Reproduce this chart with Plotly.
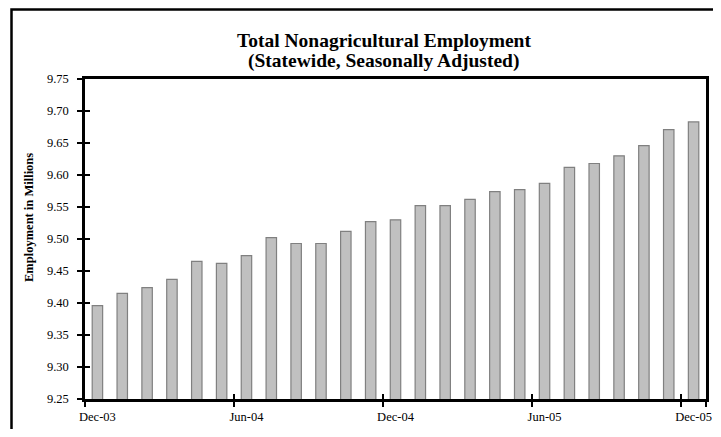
import plotly.graph_objects as go

months = ["Dec-03", "Jan-04", "Feb-04", "Mar-04", "Apr-04", "May-04", "Jun-04",
          "Jul-04", "Aug-04", "Sep-04", "Oct-04", "Nov-04", "Dec-04",
          "Jan-05", "Feb-05", "Mar-05", "Apr-05", "May-05", "Jun-05",
          "Jul-05", "Aug-05", "Sep-05", "Oct-05", "Nov-05", "Dec-05"]
employment = [9.396, 9.415, 9.424, 9.437, 9.465, 9.462, 9.474,
              9.502, 9.493, 9.493, 9.512, 9.527, 9.530,
              9.552, 9.552, 9.562, 9.574, 9.577, 9.587,
              9.612, 9.618, 9.630, 9.646, 9.671, 9.683]
x_tick_labels = ["Dec-03", "Jun-04", "Dec-04", "Jun-05", "Dec-05"]
y_ticks = [9.25, 9.30, 9.35, 9.40, 9.45, 9.50, 9.55, 9.60, 9.65, 9.70, 9.75]

title_line1 = "Total Nonagricultural Employment"
title_line2 = "(Statewide, Seasonally Adjusted)"
y_title = "Employment in Millions"

FONT = "Liberation Serif, Times New Roman, serif"

# page is 721x437; the html body keeps its default 8px margin
BODY = 8
W, H = 721 - 2 * BODY, 437 - 2 * BODY
ML, MR, MT, MB = 77, 7, 71, 30
pw, ph = W - ML - MR, H - MT - MB


def px(x):  # page pixel -> paper x
    return (x - BODY - ML) / pw


def py(y):  # page pixel -> paper y
    return (H - MB - (y - BODY)) / ph


fig = go.Figure()
fig.add_trace(go.Bar(
    x=months, y=employment, width=0.42,
    marker=dict(color="#C0C0C0", line=dict(color="#808080", width=1.2)),
    hoverinfo="x+y", showlegend=False,
))
# invisible helper trace for inner half of the crossing tick marks
fig.add_trace(go.Scatter(
    x=months, y=employment, xaxis="x2", yaxis="y2", mode="markers",
    marker=dict(opacity=0), hoverinfo="skip", showlegend=False,
))

common_x = dict(type="category", categoryorder="array", categoryarray=months,
                range=[-0.5, len(months) - 0.5], tickmode="array",
                tickvals=x_tick_labels, tickson="boundaries", tickangle=0,
                ticklen=5, tickwidth=1.5, tickcolor="black", showgrid=False,
                zeroline=False, fixedrange=True, automargin=False)
common_y = dict(range=[9.25, 9.75], tickmode="array", tickvals=y_ticks,
                ticklen=5, tickwidth=1.5, tickcolor="black", showgrid=False,
                zeroline=False, fixedrange=True, automargin=False)

fig.update_layout(
    width=W, height=H,
    margin=dict(l=ML, r=MR, t=MT, b=MB, pad=0, autoexpand=False),
    paper_bgcolor="white", plot_bgcolor="white",
    font=dict(family=FONT, color="black", size=12),
    xaxis=dict(**common_x, ticks="outside", showline=True, linecolor="black",
               linewidth=2.5, mirror=True,
               ticktext=x_tick_labels,
               tickfont=dict(family=FONT, size=12.5, color="black"),
               ticklabelstandoff=4),
    yaxis=dict(**common_y, ticks="outside", showline=True, linecolor="black",
               linewidth=2.5, mirror=True,
               tickformat=".2f",
               tickfont=dict(family=FONT, size=12.5, color="black"),
               ticklabelstandoff=6),
    xaxis2=dict(**common_x, ticks="inside", overlaying="x", anchor="y2",
                showline=False, showticklabels=False),
    yaxis2=dict(**common_y, ticks="inside", overlaying="y", anchor="x2",
                showline=False, showticklabels=False),
    annotations=[
        dict(text="<b>" + title_line1 + "</b>", xref="paper", yref="paper",
             x=px(383.5), y=py(40), xanchor="center", yanchor="middle",
             showarrow=False, font=dict(family=FONT, size=19.5, color="black")),
        dict(text="<b>" + title_line2 + "</b>", xref="paper", yref="paper",
             x=px(383.5), y=py(61), xanchor="center", yanchor="middle",
             showarrow=False, font=dict(family=FONT, size=19.5, color="black")),
        dict(text="<b>" + y_title + "</b>", xref="paper", yref="paper",
             x=px(29), y=py(218), textangle=-90, xanchor="center",
             yanchor="middle", showarrow=False,
             font=dict(family=FONT, size=12.5, color="black")),
    ],
    shapes=[
        dict(type="path", xref="paper", yref="paper",
             path=f"M {px(11.5)} {py(429)} L {px(11.5)} {py(9.5)} L {px(713)} {py(9.5)}",
             line=dict(color="black", width=2.5)),
    ],
)

fig.write_html("out.html")
